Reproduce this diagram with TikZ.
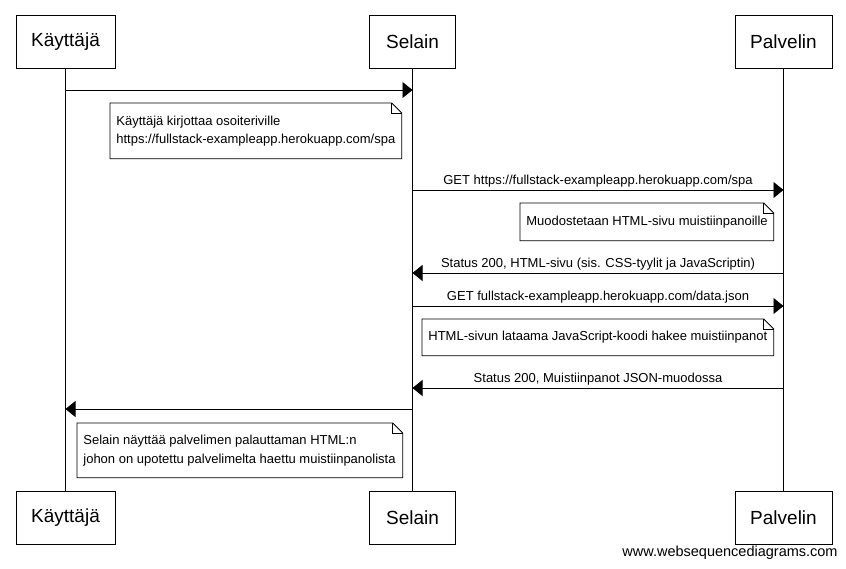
\documentclass[tikz,border=0pt]{standalone}
\usepackage{fontspec}
\setmainfont{Liberation Sans}
\usetikzlibrary{arrows.meta}
\begin{document}
\begin{tikzpicture}[x=1pt,y=-1pt,
  line width=0.8pt,
  actor/.style={draw, minimum height=53pt, inner sep=0pt, font=\fontsize{19}{22}\selectfont},
  lifeline/.style={line width=0.8pt},
  msg/.style={line width=0.8pt, -{Triangle[length=10pt,width=16pt]}},
  lbl/.style={font=\fontsize{13}{15}\selectfont, inner sep=0pt},
  notebody/.style={anchor=north west, inner sep=0pt},
  notetext/.style={anchor=west, inner sep=0pt, align=left, font=\fontsize{13}{18}\selectfont},
  notebox/.style={line width=0.8pt}
]
\fill[white] (0,0) rectangle (846,568);
\useasboundingbox (0,0) rectangle (846,568);

% actors
\node[actor, minimum width=99pt] (kt) at (65.5,41.5) {Käyttäjä};
\node[actor, minimum width=86pt] (st) at (412.5,41.5) {Selain};
\node[actor, minimum width=97pt] (pt) at (783.5,41.5) {Palvelin};
\node[actor, minimum width=99pt] (kb) at (65.5,517.5) {Käyttäjä};
\node[actor, minimum width=86pt] (sb) at (412.5,517.5) {Selain};
\node[actor, minimum width=97pt] (pb) at (783.5,517.5) {Palvelin};

\draw[lifeline] (kt.south) -- (kb.north);
\draw[lifeline] (st.south) -- (sb.north);
\draw[lifeline] (pt.south) -- (pb.north);

% message points
\coordinate (k1) at (65.5,90);  \coordinate (s1) at (412.5,90);
\coordinate (s2) at (412.5,190); \coordinate (p2) at (783.5,190);
\coordinate (p3) at (783.5,273); \coordinate (s3) at (412.5,273);
\coordinate (s4) at (412.5,306); \coordinate (p4) at (783.5,306);
\coordinate (p5) at (783.5,388); \coordinate (s5) at (412.5,388);
\coordinate (s6) at (412.5,409); \coordinate (k6) at (65.5,409);

\draw[msg] (k1) -- (s1);
\draw[msg] (s2) -- node[lbl, yshift=8.5pt] (l2) {GET https://fullstack-exampleapp.herokuapp.com/spa} (p2);
\draw[msg] (p3) -- node[lbl, yshift=8.5pt] (l3) {Status 200, HTML-sivu (sis. CSS-tyylit ja JavaScriptin)} (s3);
\draw[msg] (s4) -- node[lbl, yshift=8.5pt] (l4) {GET fullstack-exampleapp.herokuapp.com/data.json} (p4);
\draw[msg] (p5) -- node[lbl, yshift=8.5pt] (l5) {Status 200, Muistiinpanot JSON-muodossa} (s5);
\draw[msg] (s6) -- (k6);

% notes
\node[notebody, minimum width=291pt, minimum height=55pt] (n1) at (110,103) {};
\node[notetext] (t1) at ([xshift=6pt]n1.west)
  {Käyttäjä kirjottaa osoiteriville\\https://fullstack-exampleapp.herokuapp.com/spa};
\node[notebody, minimum width=253pt, minimum height=37pt] (n2) at (520,203) {};
\node[notetext] (t2) at ([xshift=6pt]n2.west) {Muodostetaan HTML-sivu muistiinpanoille};
\node[notebody, minimum width=351pt, minimum height=36pt] (n3) at (422,319) {};
\node[notetext] (t3) at ([xshift=6pt]n3.west) {HTML-sivun lataama JavaScript-koodi hakee muistiinpanot};
\node[notebody, minimum width=325pt, minimum height=54pt] (n4) at (77,423) {};
\node[notetext, font=\fontsize{13}{19.5}\selectfont] (t4) at ([xshift=6pt]n4.west)
  {Selain näyttää palvelimen palauttaman HTML:n\\johon on upotettu palvelimelta haettu muistiinpanolista};

\foreach \n in {n1,n2,n3,n4}{
  \draw[notebox] (\n.south west) -- (\n.south east) -- ([yshift=-10pt]\n.north east)
    -- ([xshift=-10pt]\n.north east) -- (\n.north west) -- cycle;
  \draw[notebox] ([xshift=-10pt]\n.north east) -- ([xshift=-10pt,yshift=-10pt]\n.north east)
    -- ([yshift=-10pt]\n.north east);
}

\node[anchor=east, inner sep=0pt, font=\fontsize{14.5}{16}\selectfont] (wm) at (838,553) {www.websequencediagrams.com};
\end{tikzpicture}
\end{document}
